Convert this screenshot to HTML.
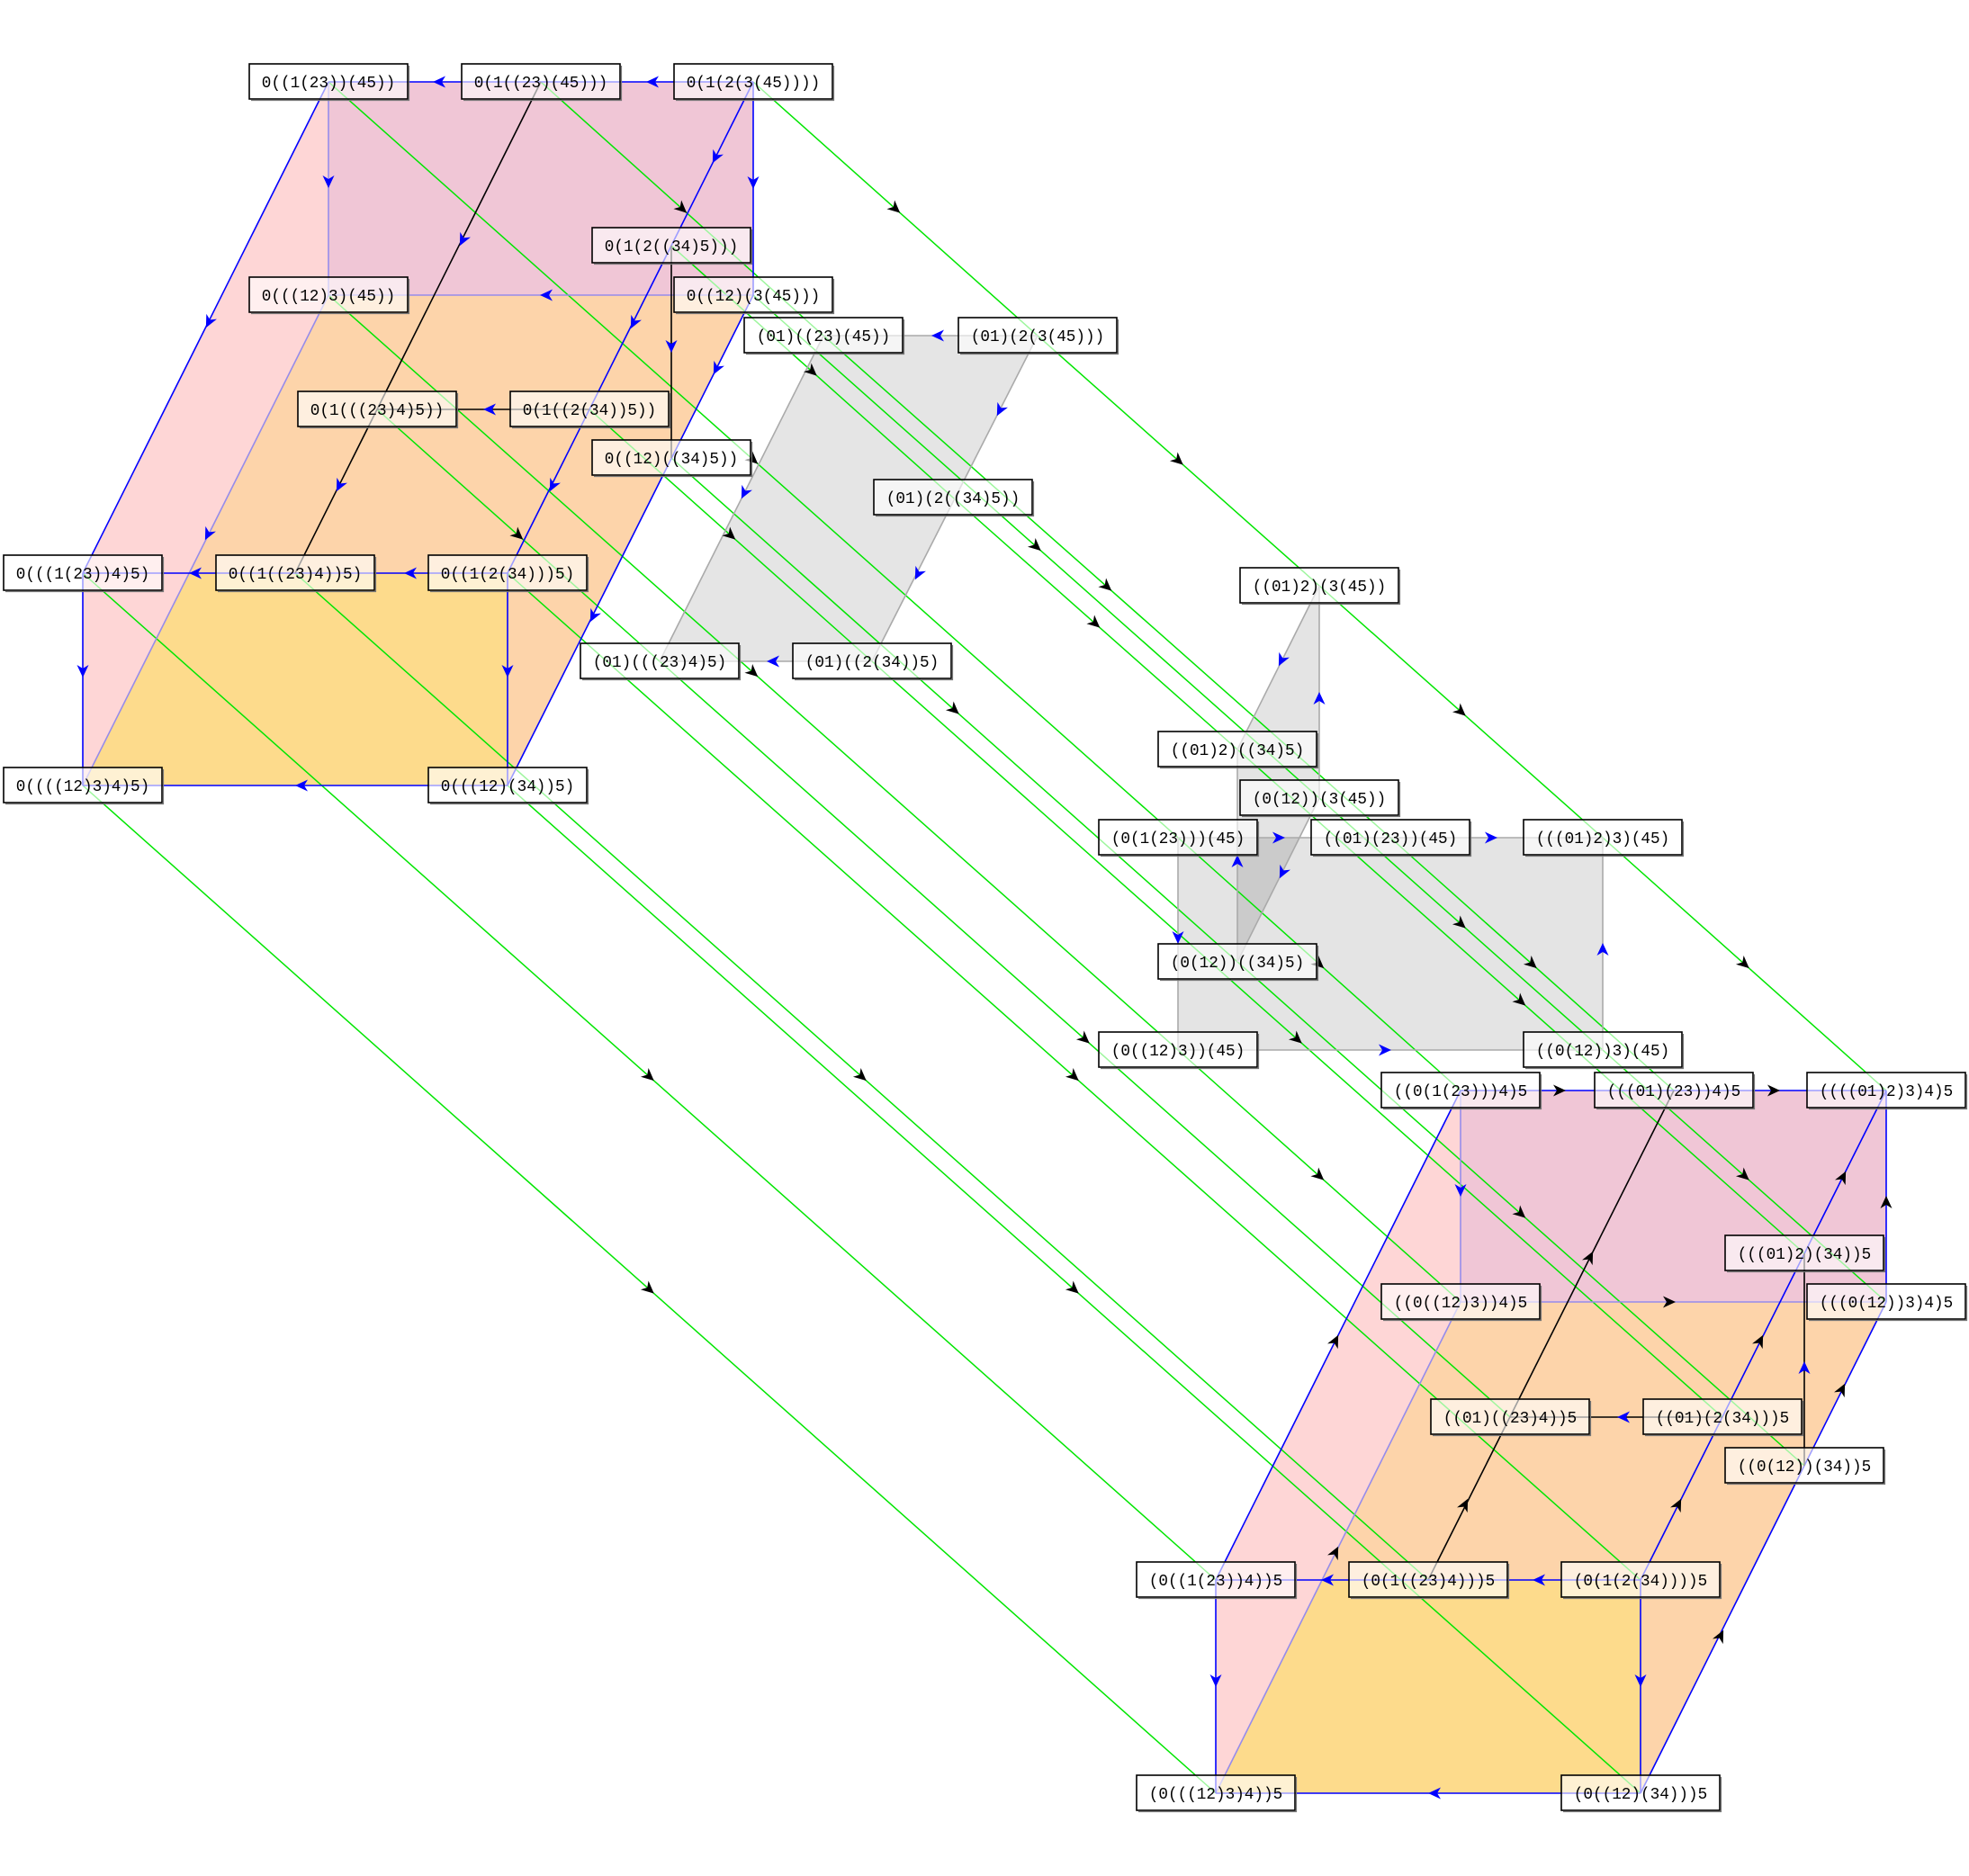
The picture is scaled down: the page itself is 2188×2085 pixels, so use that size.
<!DOCTYPE html>
<html><head><meta charset="utf-8"><style>
html,body{margin:0;padding:0;background:#fff;width:2188px;height:2085px;overflow:hidden}
svg{display:block}
text{font-family:"Liberation Mono",monospace;font-size:18.5px;fill:#000}
</style></head><body>
<svg id="s" xmlns="http://www.w3.org/2000/svg" width="2188" height="2085" viewBox="0 0 2188 2085"></svg>
<script>
const N={
A1:[365,91,"0((1(23))(45))"],A2:[601,91,"0(1((23)(45)))"],A3:[837,91,"0(1(2(3(45))))"],
A4:[746,273,"0(1(2((34)5)))"],A5:[365,328,"0(((12)3)(45))"],A6:[837,328,"0((12)(3(45)))"],
A7:[915,373,"(01)((23)(45))"],G0:[1153,373,"(01)(2(3(45)))"],
A8:[419,455,"0(1(((23)4)5))"],A9:[655,455,"0(1((2(34))5))"],A10:[746,509,"0((12)((34)5))"],
A11:[1059,553,"(01)(2((34)5))"],A12:[92,637,"0(((1(23))4)5)"],A13:[328,637,"0((1((23)4))5)"],
A14:[564,637,"0((1(2(34)))5)"],A15:[733,735,"(01)(((23)4)5)"],A16:[969,735,"(01)((2(34))5)"],
A17:[92,873,"0((((12)3)4)5)"],A18:[564,873,"0(((12)(34))5)"],
B1:[1466,651,"((01)2)(3(45))"],B2:[1375,833,"((01)2)((34)5)"],B3:[1466,887,"(0(12))(3(45))"],
B4:[1309,931,"(0(1(23)))(45)"],B5:[1545,931,"((01)(23))(45)"],B6:[1781,931,"(((01)2)3)(45)"],
B7:[1375,1069,"(0(12))((34)5)"],B8:[1309,1167,"(0((12)3))(45)"],B9:[1781,1167,"((0(12))3)(45)"],
B10:[1623,1212,"((0(1(23)))4)5"],B11:[1860,1212,"(((01)(23))4)5"],B12:[2096,1212,"((((01)2)3)4)5"],
C1:[2005,1393,"(((01)2)(34))5"],C2:[1623,1447,"((0((12)3))4)5"],C3:[2096,1447,"(((0(12))3)4)5"],
C4:[1678,1575,"((01)((23)4))5"],C5:[1914,1575,"((01)(2(34)))5"],C6:[2005,1629,"((0(12))(34))5"],
C7:[1351,1756,"(0((1(23))4))5"],C8:[1587,1756,"(0(1((23)4)))5"],C9:[1823,1756,"(0(1(2(34))))5"],
C10:[1351,1993,"(0(((12)3)4))5"],C11:[1823,1993,"(0((12)(34)))5"]};
const s=document.getElementById('s');let out='';
function P(k){return N[k][0]+','+N[k][1]}
function poly(ks,fill){out+=`<polygon points="${ks.map(P).join(' ')}" fill="${fill}"/>`}
poly(['A5','A6','A18','A17'],'rgb(253,212,170)');
poly(['A12','A14','A18','A17'],'rgb(253,219,140)');
poly(['A1','A5','A17','A12'],'rgb(254,214,214)');
poly(['A1','A3','A6','A5'],'rgb(240,198,214)');
poly(['C2','C3','C11','C10'],'rgb(253,212,170)');
poly(['C7','C9','C11','C10'],'rgb(253,219,140)');
poly(['B10','C2','C10','C7'],'rgb(254,214,214)');
poly(['B10','B12','C3','C2'],'rgb(240,198,214)');
poly(['A7','G0','A16','A15'],'rgb(229,229,229)');
poly(['B4','B6','B9','B8'],'rgba(0,0,0,0.105)');
poly(['B1','B3','B7','B2'],'rgba(0,0,0,0.105)');
let arrows='';
function head(x,y,dx,dy,c){const L=Math.hypot(dx,dy),ux=dx/L,uy=dy/L,px=-uy,py=ux;
 const tx=x+ux*7,ty=y+uy*7,bx=x-ux*7,by=y-uy*7,nx=x-ux*3,ny=y-uy*3;
 arrows+=`<path d="M${tx},${ty} L${bx+px*6.5},${by+py*6.5} L${nx},${ny} L${bx-px*6.5},${by-py*6.5} Z" fill="${c}"/>`}
function e(a,b,col,pts,ac,w){const x1=N[a][0],y1=N[a][1],x2=N[b][0],y2=N[b][1];
 out+=`<line x1="${x1}" y1="${y1}" x2="${x2}" y2="${y2}" stroke="${col}" stroke-width="${w||1.6}"/>`;
 const dx=x2-x1,dy=y2-y1;
 (pts||[]).forEach(p=>{let x,y;if(typeof p==='number'){x=x1+dx*p;y=y1+dy*p}else{x=p[0];y=p[1]}head(x,y,dx,dy,ac||col)})}
const BL='#0000ff',FA='rgb(150,140,235)',GR='#aaaaaa',GN='#00e600';
[['A1','B4'],['A2','A7'],['A3','G0'],['A4','A11'],['A5','B8'],['A6','B3'],['A7','B5'],['G0','B1'],['A8','A15'],['A9','A16'],['A10','B7'],['A11','B2'],['A12','C7'],['A13','C8'],['A14','C9'],['A15','C4'],['A16','C5'],['A17','C10'],['A18','C11'],['B1','B6'],['B2','C1'],['B3','B9'],['B4','B10'],['B5','B11'],['B6','B12'],['B7','C6'],['B8','C2'],['B9','C3']].forEach(p=>e(p[0],p[1],GN,[0.5],'#000',1.5));
e('A1','A5',FA,[[365,202]],BL);e('A6','A5',FA,[[607,328]],BL);e('A5','A17',FA,[[231,594]],BL);
e('A3','A2',BL,[[725,91]]);e('A2','A1',BL,[[488,91]]);e('A3','A6',BL,[[837,203]]);
e('A1','A12',BL,[[232,358]]);e('A3','A14',BL,[[795,175],[704,359],[614,540]]);
e('A6','A18',BL,[[796,410],[659,685]]);e('A13','A12',BL,[[217,637]]);e('A14','A13',BL,[[456,637]]);
e('A12','A17',BL,[[92,746]]);e('A18','A17',BL,[[335,873]]);e('A14','A18',BL,[[564,746]]);
e('A2','A13','#000',[[514,267],[377,540]],BL);e('A4','A10','#000',[[746,385]],BL);e('A9','A8','#000',[[544,455]],BL);
e('G0','A7',GR,[[1042,373]],BL);e('A7','A15',GR,[[827,548]],BL);e('G0','A16',GR,[[1111,456],[1020,638]],BL);e('A16','A15',GR,[[859,735]],BL);
e('B4','B5',GR,[[1421,931]],BL);e('B5','B6',GR,[[1657,931]],BL);e('B8','B9',GR,[[1539,1167]],BL);
e('B9','B6',GR,[[1781,1055]],BL);e('B4','B8',GR,[[1309,1042]],BL);e('B7','B2',GR,[[1375,957]],BL);
e('B3','B1',GR,[[1466,776]],BL);e('B1','B2',GR,[[1424,734]],BL);e('B3','B7',GR,[[1425,970]],BL);
e('B10','C2',FA,[[1623,1323]],BL);e('C10','C2',FA,[[1484,1725]],'#000');e('C2','C3',FA,[[1855,1447]],'#000');
e('B10','B11',BL,[[1733,1212]],'#000');e('B11','B12',BL,[[1971,1212]],'#000');
e('C7','B10',BL,[[1484,1490]],'#000');e('C3','B12',BL,[[2096,1336]],'#000');
e('C11','C3',BL,[[2047,1544],[1912,1818]],'#000');e('C9','B12',BL,[[2048,1308],[1956,1490],[1865,1672]],'#000');
e('C8','B11','#000',[[1767,1397],[1628,1672]],'#000');e('C5','C4','#000',[[1804,1575]],BL);e('C6','C1','#000',[[2005,1520]],BL);
e('C8','C7',BL,[[1475,1756]]);e('C9','C8',BL,[[1710,1756]]);e('C7','C10',BL,[[1351,1868]]);e('C9','C11',BL,[[1823,1868]]);e('C11','C10',BL,[[1594,1993]]);
out+=arrows;
for(const k in N){const [x,y,t]=N[k];
 out+=`<rect x="${x-88}" y="${y-20}" width="176" height="39" fill="rgba(255,255,255,0.62)" stroke="#000" stroke-width="1.6"/>`;
 out+=`<polyline points="${x+89.5},${y-18} ${x+89.5},${y+20.5} ${x-86},${y+20.5}" fill="none" stroke="#777" stroke-width="1.2"/>`;
 out+=`<text x="${x}" y="${y+6}" text-anchor="middle" textLength="${t.length*10.6}" lengthAdjust="spacingAndGlyphs">${t}</text>`;}
s.innerHTML=out;
</script>
</body></html>
